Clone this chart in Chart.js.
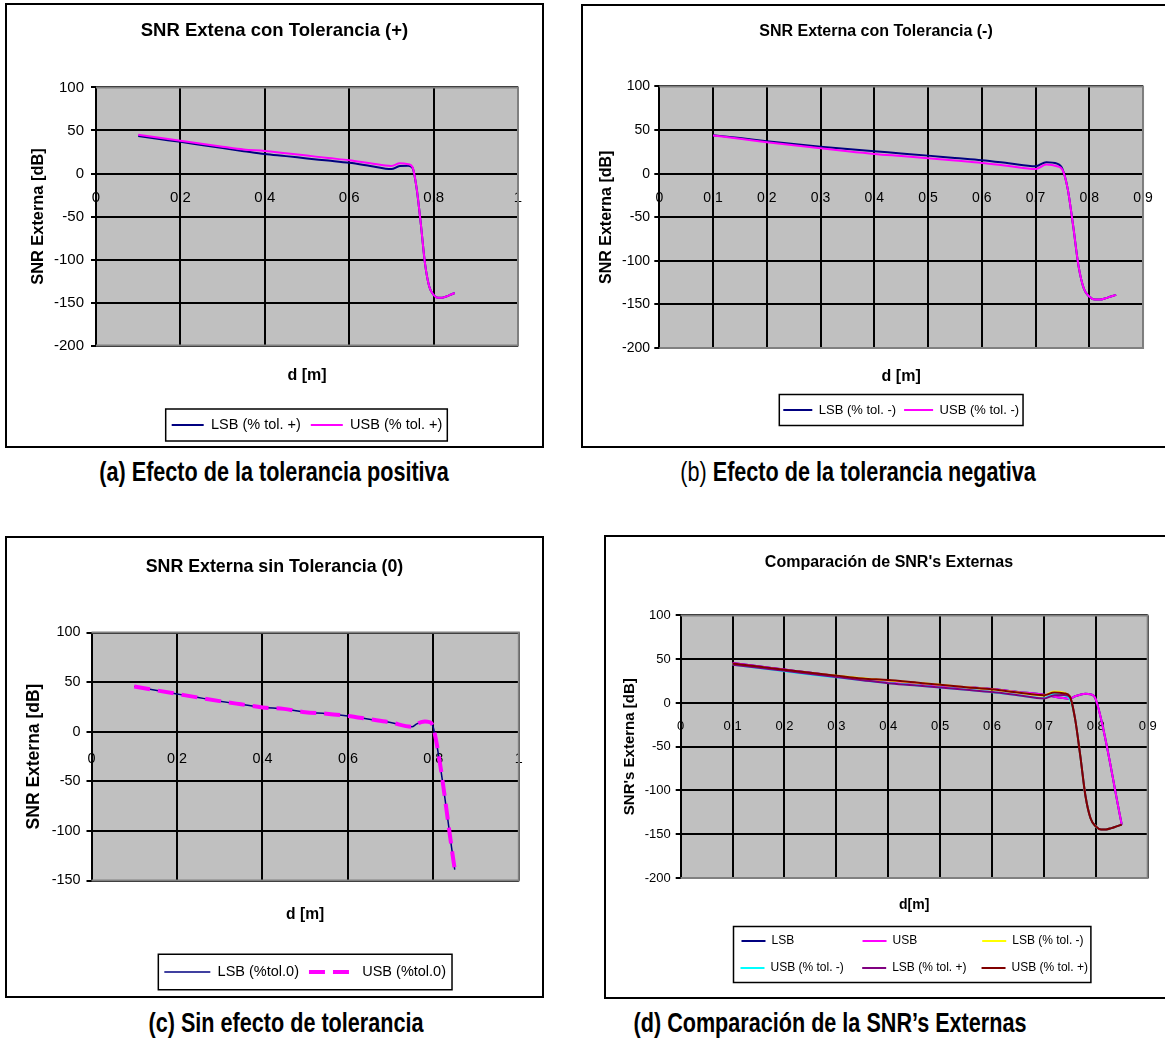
<!DOCTYPE html>
<html>
<head>
<meta charset="utf-8">
<script src="https://cdn.jsdelivr.net/npm/chart.js@4.4.4/dist/chart.umd.min.js"></script>
<style>
  html, body { margin: 0; padding: 0; background: #fff; }
  body { position: relative; width: 1165px; height: 1041px; overflow: hidden; }
  .panel { position: absolute; border: 2px solid #000; box-sizing: border-box; background: #fff; }
  .panel canvas { display: block; }
  .cap { position: absolute; white-space: nowrap; color: #000;
         font-family: 'Liberation Sans', Arial, sans-serif; font-weight: bold; font-size: 27px;
         transform: translate(-50%, -50%) scaleX(0.8); }
  .cap .n { font-weight: normal; }
</style>
</head>
<body>
<div class="panel" id="pa"><canvas id="ca"></canvas></div>
<div class="panel" id="pb"><canvas id="cb"></canvas></div>
<div class="panel" id="pc"><canvas id="cc"></canvas></div>
<div class="panel" id="pd"><canvas id="cd"></canvas></div>

<div class="cap" style="left:274px;top:472px">(a) Efecto de la tolerancia positiva</div>
<div class="cap" style="left:858px;top:472px"><span class="n">(b)</span> Efecto de la tolerancia negativa</div>
<div class="cap" style="left:286px;top:1023px">(c) Sin efecto de tolerancia</div>
<div class="cap" style="left:830px;top:1023px">(d) Comparación de la SNR’s Externas</div>

<script>
// ─── Data ────────────────────────────────────────────────────────────────────
// distances used by the curves with tolerance
const dTol = [0.1, 0.15, 0.2, 0.25, 0.3, 0.35, 0.4, 0.45, 0.5, 0.55, 0.6, 0.65, 0.7,
              0.72, 0.74, 0.75, 0.76, 0.77, 0.78, 0.79, 0.8, 0.81, 0.82, 0.83, 0.84, 0.85];
const lsbTolPos = [43.5, 40.1, 36.8, 33.1, 29.5, 26.0, 22.6, 20.2, 17.5, 15.0, 12.4, 8.8, 5.1,
                   8.8, 9.0, 6.5, -18, -60, -106, -132, -141, -144.5, -144.5, -143, -141, -139];
const usbTolPos = [45.0, 41.5, 38.0, 34.6, 31.2, 28.0, 26.2, 23.5, 20.8, 18.0, 15.5, 12.0, 8.8,
                   11.8, 10.8, 7.5, -18, -60, -106, -132, -141, -144.5, -144.5, -143, -141, -139];
const lsbTolNeg = [44.2, 40.8, 37.3, 34.0, 31.0, 28.2, 25.7, 23.2, 20.7, 18.0, 15.4, 12.0, 8.5,
                   13.2, 11.5, 5.5, -18, -60, -106, -132, -141, -144.5, -144.5, -143, -141, -139];
const usbTolNeg = [43.8, 40.0, 36.1, 32.5, 29.2, 25.8, 22.7, 20.2, 17.7, 15.0, 12.3, 8.8, 5.4,
                   10.4, 8.5, 4.5, -18, -60, -106, -132, -141, -144.5, -144.5, -143, -141, -139];

// distances / values without tolerance
const d0   = [0.1, 0.15, 0.2, 0.25, 0.3, 0.35, 0.4, 0.45, 0.5, 0.55, 0.6, 0.65, 0.7,
              0.75, 0.76, 0.77, 0.78, 0.79, 0.8, 0.85];
const lsb0 = [45.5, 41.8, 38.1, 34.4, 30.8, 27.6, 24.5, 23.0, 19.6, 18.2, 15.9, 12.6, 9.3,
              5.0, 7.6, 9.4, 10.4, 9.8, 4.0, -139];
const usb0 = [45.5, 41.8, 38.1, 34.4, 30.8, 27.6, 24.5, 23.0, 19.6, 18.2, 15.9, 12.6, 9.3,
              5.0, 7.6, 9.4, 10.4, 9.8, 4.0, -139];

// axis ranges: [min, max, step]
const xRange10 = [0, 1, 0.2];
const xRange09 = [0, 0.9, 0.1];
const yRange200 = [-200, 100, 50];
const yRange150 = [-150, 100, 50];

// ─── Chart.js defaults ───────────────────────────────────────────────────────
const FONT = "'Liberation Sans', Arial, sans-serif";
Chart.defaults.font.family = FONT;
Chart.defaults.color = '#000';
Chart.defaults.animation = false;

const NAVY = '#000080', MAGENTA = '#ff00ff', YELLOW = '#ffff00',
      CYAN = '#00ffff', PURPLE = '#800080', DARKRED = '#800000';

const pts = (xs, ys) => xs.map((x, i) => ({ x, y: ys[i] }));

// grey plot area + grey frame on top/right/bottom (Excel style)
const plotBg = {
  id: 'plotBg',
  beforeDraw(chart) {
    const { ctx, chartArea: a } = chart;
    ctx.save();
    ctx.fillStyle = '#c0c0c0';
    ctx.fillRect(a.left, a.top, a.width, a.height);
    ctx.restore();
  },
  beforeDatasetsDraw(chart) {
    const { ctx, chartArea: a } = chart;
    ctx.save();
    ctx.strokeStyle = '#808080';
    ctx.lineWidth = 2;
    ctx.beginPath();
    ctx.moveTo(a.left, a.top);
    ctx.lineTo(a.right, a.top);
    ctx.lineTo(a.right, a.bottom);
    ctx.lineTo(a.left, a.bottom);
    ctx.stroke();
    ctx.restore();
  }
};

// frame around the legend items
const legendFrame = {
  id: 'legendFrame',
  afterDraw(chart, args, opts) {
    const hb = chart.legend && chart.legend.legendHitBoxes;
    if (!hb || !hb.length) return;
    const l = Math.min(...hb.map(h => h.left));
    const r = Math.max(...hb.map(h => h.left + h.width));
    const t = Math.min(...hb.map(h => h.top));
    const b = Math.max(...hb.map(h => h.top + h.height));
    const [pl, pr, pv] = opts.pad;
    const ctx = chart.ctx;
    ctx.save();
    ctx.strokeStyle = '#000';
    ctx.lineWidth = 1.5;
    ctx.strokeRect(l - pl, t - pv, r - l + pl + pr, b - t + 2 * pv);
    ctx.restore();
  }
};

// ─── Panels (layout in page pixels) ──────────────────────────────────────────
const panels = [
  { panel: 'pa', canvas: 'ca', box: [5, 3, 539, 445], plot: [96, 87.5, 518, 345.5],
    title: 'SNR Extena con Tolerancia (+)', titleSize: 18.5, titleY: 31,
    yTitle: 'SNR Externa [dB]', yTitleSize: 16.4, yTitleX: 38,
    xTitle: 'd [m]', xTitleSize: 16, xTitleY: 376,
    tickSize: 15, yTickPad: 7, xTickY: 198, xRange: xRange10, yRange: yRange200,
    legendSize: 14.5, legendGap: 10, legendLine: 32, legendY: 425, legendRows: 1,
    framePad: [6, 5, 8.75],
    datasets: [
      { label: 'LSB (% tol. +)', x: dTol, y: lsbTolPos, color: NAVY },
      { label: 'USB (% tol. +)', x: dTol, y: usbTolPos, color: MAGENTA }
    ] },
  { panel: 'pb', canvas: 'cb', box: [581, 4, 590, 444], plot: [659.3, 86.5, 1148, 348],
    title: 'SNR Externa con Tolerancia (-)', titleSize: 16, titleY: 32,
    yTitle: 'SNR Externa [dB]', yTitleSize: 16, yTitleX: 607,
    xTitle: 'd [m]', xTitleSize: 16, xTitleY: 377,
    tickSize: 14, yTickPad: 4.3, xTickY: 198.3, xRange: xRange09, yRange: yRange200,
    legendSize: 13, legendGap: 8, legendLine: 29, legendY: 410, legendRows: 1,
    framePad: [4, 4, 9],
    datasets: [
      { label: 'LSB (% tol. -)', x: dTol, y: lsbTolNeg, color: NAVY },
      { label: 'USB (% tol. -)', x: dTol, y: usbTolNeg, color: MAGENTA }
    ] },
  { panel: 'pc', canvas: 'cc', box: [5, 536, 539, 462], plot: [91.5, 632.5, 520, 880.5],
    title: 'SNR Externa sin Tolerancia (0)', titleSize: 17.8, titleY: 567.5,
    yTitle: 'SNR Externa [dB]', yTitleSize: 17.5, yTitleX: 34,
    xTitle: 'd [m]', xTitleSize: 15.6, xTitleY: 915,
    tickSize: 14.4, yTickPad: 5.9, xTickY: 759.5, xRange: xRange10, yRange: yRange150,
    legendSize: 14.5, legendGap: 10, legendLine: 46, legendY: 972, legendRows: 1,
    framePad: [6, 6, 10.5],
    datasets: [
      { label: 'LSB (%tol.0)', x: d0, y: lsb0, color: NAVY, width: 1.5 },
      { label: 'USB (%tol.0)', x: d0, y: usb0, color: MAGENTA, width: 4, dash: [16, 8] }
    ] },
  { panel: 'pd', canvas: 'cd', box: [604, 535, 570, 464], plot: [680.7, 615.4, 1148, 878],
    title: "Comparación de SNR's Externas", titleSize: 16, titleY: 563,
    yTitle: "SNR's Externa [dB]", yTitleSize: 15, yTitleX: 630,
    xTitle: 'd[m]', xTitleSize: 14, xTitleY: 905,
    tickSize: 13, yTickPad: 5, xTickY: 726, xRange: xRange09, yRange: yRange200,
    legendSize: 12, legendGap: 15, legendLine: 24, legendY: 941, legendRows: 2,
    framePad: [7, 3, 8.5], alignColumns: true,
    datasets: [
      { label: 'LSB', x: d0, y: lsb0, color: NAVY },
      { label: 'USB', x: d0, y: usb0, color: MAGENTA },
      { label: 'LSB (% tol. -)', x: dTol, y: lsbTolNeg, color: YELLOW },
      { label: 'USB (% tol. -)', x: dTol, y: usbTolNeg, color: CYAN },
      { label: 'LSB (% tol. +)', x: dTol, y: lsbTolPos, color: PURPLE },
      { label: 'USB (% tol. +)', x: dTol, y: usbTolPos, color: DARKRED }
    ] }
];

function makeChart(s) {
  const [L, T, W, H] = s.box;
  const panel = document.getElementById(s.panel);
  Object.assign(panel.style, { left: L + 'px', top: T + 'px', width: W + 'px', height: H + 'px' });

  // canvas sits inside the 2px border
  const ox = L + 2, oy = T + 2, cw = W - 4, ch = H - 4;
  const cv = document.getElementById(s.canvas);
  cv.width = cw;
  cv.height = ch;

  const pl = s.plot[0] - ox, pt = s.plot[1] - oy, pr = s.plot[2] - ox, pb = s.plot[3] - oy;
  const tLh = s.titleSize * 1.2;
  const tTop = s.titleY - oy - tLh / 2;
  const yLh = s.yTitleSize * 1.2;
  const xLh = s.xTitleSize * 1.2;
  const tickLh = s.tickSize * 1.2;
  const [ymin, ymax, ystep] = s.yRange;
  const y0 = pt + (pb - pt) * ymax / (ymax - ymin);

  const lgTop = s.legendY - oy - s.legendGap - s.legendSize / 2;
  const lgH = s.legendRows * (s.legendSize + s.legendGap) + 10;
  const x2H = lgTop - pb;
  const x2Pad = pb + x2H - xLh / 2 - (s.xTitleY - oy);

  const datasets = s.datasets.map((d, i) => ({
    label: d.label,
    data: pts(d.x, d.y),
    xAxisID: 'x',
    yAxisID: 'y',
    borderColor: d.color,
    backgroundColor: d.color,
    borderWidth: d.width || 2,
    borderDash: d.dash || [],
    pointRadius: 0,
    fill: false,
    cubicInterpolationMode: 'monotone',
    order: -i   // later series drawn on top
  }));

  return new Chart(cv, {
    type: 'line',
    data: { datasets },
    options: {
      responsive: false,
      devicePixelRatio: 1,
      animation: false,
      events: [],
      layout: { padding: { left: 0, top: 0, right: 0, bottom: ch - lgTop - lgH } },
      scales: {
        x: {
          type: 'linear', axis: 'x', position: { y: 0 },
          min: s.xRange[0], max: s.xRange[1],
          grid: { color: '#000', lineWidth: 2, drawTicks: false },
          border: { color: '#000', width: 2 },
          ticks: {
            stepSize: s.xRange[2], autoSkip: false, maxRotation: 0,
            font: { size: s.tickSize },
            padding: (s.xTickY - oy) - y0 - tickLh / 2,
            callback: v => String(Number(v.toFixed(2)))
          }
        },
        x2: {
          type: 'linear', axis: 'x', position: 'bottom',
          min: s.xRange[0], max: s.xRange[1],
          grid: { display: false }, border: { display: false }, ticks: { display: false },
          title: {
            display: true, text: s.xTitle,
            font: { size: s.xTitleSize, weight: 'bold' },
            padding: { top: 0, bottom: x2Pad }
          },
          afterFit: sc => { sc.height = x2H; }
        },
        y: {
          type: 'linear', axis: 'y', position: 'left',
          min: ymin, max: ymax,
          grid: { color: '#000', lineWidth: 2, tickLength: 5 },
          border: { color: '#000', width: 2 },
          ticks: { stepSize: ystep, font: { size: s.tickSize }, padding: s.yTickPad },
          title: {
            display: true, text: s.yTitle,
            font: { size: s.yTitleSize, weight: 'bold' },
            padding: { top: s.yTitleX - ox - yLh / 2, bottom: 0 }
          },
          afterFit: sc => { sc.width = pl; }
        },
        yr: {
          type: 'linear', axis: 'y', position: 'right',
          grid: { display: false }, border: { display: false }, ticks: { display: false },
          afterFit: sc => { sc.width = cw - pr; }
        }
      },
      plugins: {
        title: {
          display: true, text: s.title, color: '#000',
          font: { size: s.titleSize, weight: 'bold' },
          padding: { top: tTop, bottom: pt - tTop - tLh }
        },
        legend: {
          position: 'bottom',
          fullSize: false,
          labels: {
            usePointStyle: true,
            pointStyle: 'line',
            pointStyleWidth: s.legendLine,
            padding: s.legendGap,
            color: '#000',
            font: { size: s.legendSize },
            generateLabels: chart => {
              const items = chart.data.datasets.map((ds, i) => ({
                text: ds.label,
                strokeStyle: ds.borderColor,
                fillStyle: ds.borderColor,
                lineWidth: ds.borderWidth,
                lineDash: ds.borderDash,
                pointStyle: 'line',
                fontColor: '#000',
                hidden: false,
                datasetIndex: i
              }));
              if (s.alignColumns) {
                // pad the short names so the two legend rows line up in columns
                const ctx = chart.ctx;
                ctx.save();
                ctx.font = s.legendSize + 'px ' + FONT;
                const w = Math.max(...items.map(it => ctx.measureText(it.text).width));
                items.forEach(it => {
                  while (ctx.measureText(it.text + ' ').width <= w + 1) it.text += ' ';
                });
                ctx.restore();
              }
              return items;
            }
          }
        },
        tooltip: { enabled: false },
        legendFrame: { pad: s.framePad }
      }
    },
    plugins: [plotBg, legendFrame]
  });
}

panels.forEach(makeChart);
</script>
</body>
</html>
